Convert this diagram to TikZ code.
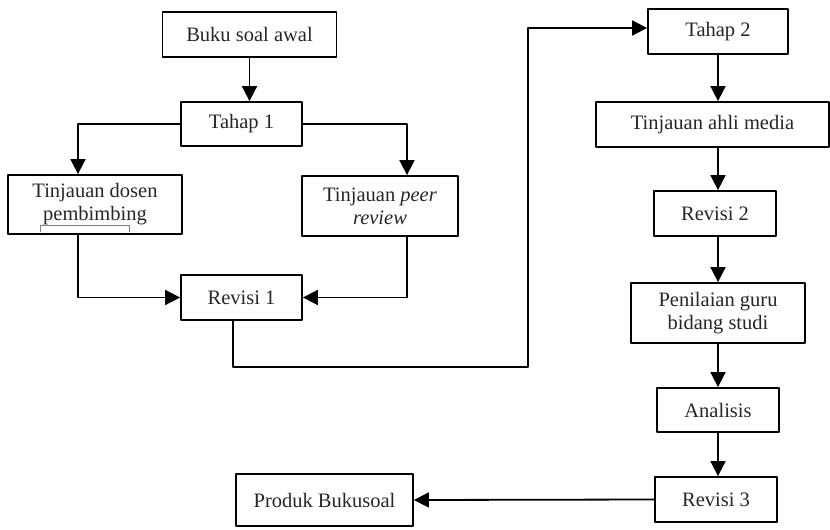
\documentclass[tikz,border=0pt]{standalone}
\usepackage{fontspec}
\setmainfont{Liberation Serif}
\usetikzlibrary{arrows.meta}

\begin{document}
\begin{tikzpicture}[line cap=round,line join=round,>={Triangle[length=15pt,width=15pt]},x=1pt,y=1pt,
  box/.style={draw,line width=1.8pt,inner sep=0pt,align=center,text=black!85,font=\fontsize{20.5}{23}\selectfont},
  flow/.style={->,line width=1.8pt,line cap=butt}]
\useasboundingbox (0,0) rectangle (830,-530);
% left part
\node[box,minimum width=174,minimum height=45] (awal) at (249.5,-34.5) {Buku soal awal};
\node[box,minimum width=121,minimum height=44] (tahap1) at (241.5,-124) {Tahap 1};
\node[box,minimum width=174,minimum height=59] (dosen) at (95,-204.5) {Tinjauan dosen\\pembimbing};
\node[box,minimum width=156,minimum height=60] (peer) at (380,-206) {Tinjauan \textit{peer}\\\textit{review}};
\node[box,minimum width=121,minimum height=45] (revisi1) at (241.5,-297.5) {Revisi 1};
% right part
\node[box,minimum width=140,minimum height=45] (tahap2) at (718,-31.5) {Tahap 2};
\node[box,minimum width=233,minimum height=45] (media) at (712.5,-124.5) {Tinjauan ahli media};
\node[box,minimum width=122,minimum height=45] (revisi2) at (715,-213.5) {Revisi 2};
\node[box,minimum width=174,minimum height=60] (guru) at (718,-313) {Penilaian guru\\bidang studi};
\node[box,minimum width=122,minimum height=44] (analisis) at (718,-410) {Analisis};
\node[box,minimum width=122,minimum height=45] (revisi3) at (716,-499.5) {Revisi 3};
\node[box,minimum width=177,minimum height=52] (produk) at (324.5,-500) {Produk Bukusoal};
% bracket under pembimbing
\draw[gray,line width=0.8pt] (40,-232) -- (40,-225) -- (129,-225) -- (129,-232);
% connectors
\draw[flow] (awal.south) -- (awal.south |- tahap1.north);
\draw[flow] (tahap1.west) -| ([xshift=-17pt]dosen.north);
\draw[flow] (tahap1.east) -| ([xshift=27pt]peer.north);
\draw[flow] ([xshift=-17pt]dosen.south) |- (revisi1.west);
\draw[flow] ([xshift=27pt]peer.south) |- (revisi1.east);
\draw[flow] ([xshift=-8.5pt]revisi1.south) |- (528,-367) |- ([yshift=3.5pt]tahap2.west);
\draw[flow] (tahap2.south) -- (tahap2.south |- media.north);
\draw[flow] (tahap2.south |- media.south) -- (tahap2.south |- revisi2.north);
\draw[flow] (tahap2.south |- revisi2.south) -- (tahap2.south |- guru.north);
\draw[flow] (tahap2.south |- guru.south) -- (tahap2.south |- analisis.north);
\draw[flow] (tahap2.south |- analisis.south) -- (tahap2.south |- revisi3.north);
\draw[flow] (revisi3.west) -- (produk.east);
\end{tikzpicture}
\end{document}
